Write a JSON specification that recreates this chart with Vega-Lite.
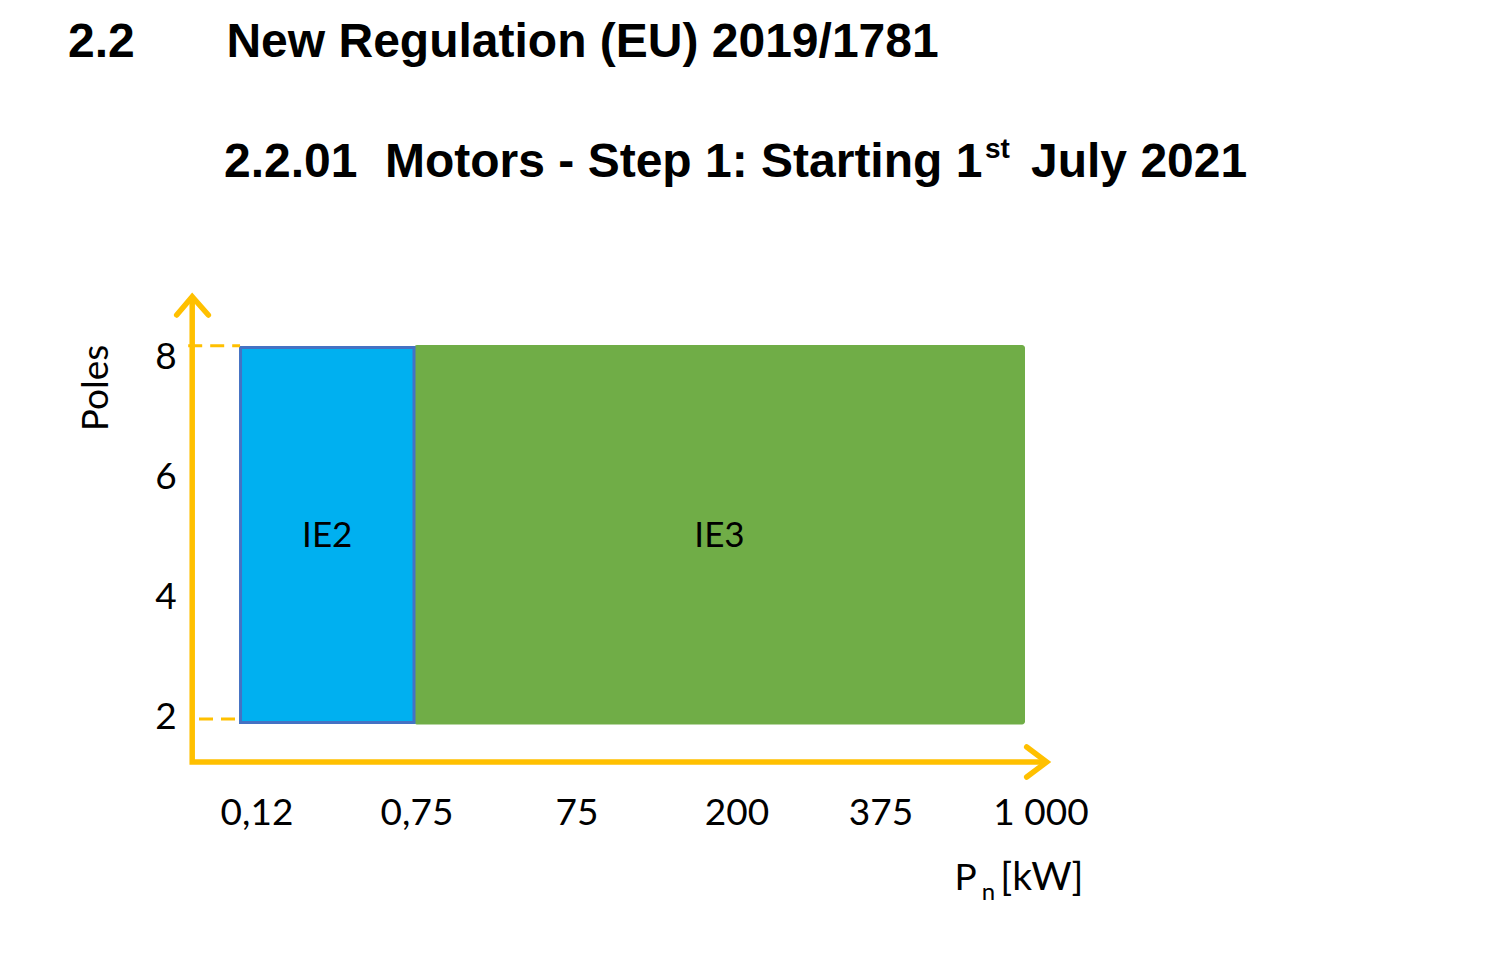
{
  "$schema": "https://vega.github.io/schema/vega-lite/v6.json",
  "width": 1493,
  "height": 976,
  "autosize": {"type": "fit", "contains": "padding"},
  "padding": 0,
  "background": "white",
  "config": {"view": {"stroke": null}},
  "data": {"values": [{}]},
  "datasets": {
    "regions": [
      {"cls": "IE3", "x0": 0.98125, "x1": 4.8, "y0": 1.86, "y1": 8.183},
      {"cls": "IE2", "x0": -0.103, "x1": 0.98125, "y0": 1.892, "y1": 8.142}
    ],
    "axisPath": [
      {"part": "axis", "seq": 0, "x": -0.405, "y": 8.95},
      {"part": "axis", "seq": 1, "x": -0.405, "y": 1.233},
      {"part": "axis", "seq": 2, "x": 4.92, "y": 1.233},
      {"part": "yhead", "seq": 0, "x": -0.502, "y": 8.683},
      {"part": "yhead", "seq": 1, "x": -0.405, "y": 8.988},
      {"part": "yhead", "seq": 2, "x": -0.304, "y": 8.683},
      {"part": "xhead", "seq": 0, "x": 4.8106, "y": 1.483},
      {"part": "xhead", "seq": 1, "x": 4.9356, "y": 1.233},
      {"part": "xhead", "seq": 2, "x": 4.8106, "y": 0.983}
    ],
    "guides": [
      {"level": 8, "x": -0.43, "y": 8.172},
      {"level": 8, "x": -0.106, "y": 8.172},
      {"level": 2, "x": -0.3625, "y": 1.95},
      {"level": 2, "x": -0.119, "y": 1.95}
    ],
    "xticks": [
      {"label": "0,12", "slot": 0},
      {"label": "0,75", "slot": 1},
      {"label": "75", "slot": 2},
      {"label": "200", "slot": 3},
      {"label": "375", "slot": 3.9},
      {"label": "1 000", "slot": 4.9}
    ],
    "poles": [{"poles": 2}, {"poles": 4}, {"poles": 6}, {"poles": 8}],
    "headings": [
      {"text": "2.2", "x": -1.181, "y": 12.983},
      {"text": "New Regulation (EU) 2019/1781", "x": -0.191, "y": 12.983},
      {"text": "2.2.01", "x": -0.206, "y": 10.983},
      {"text": "Motors - Step 1: Starting 1", "x": 0.8, "y": 10.983},
      {"text": "July 2021", "x": 4.8375, "y": 10.983}
    ]
  },
  "layer": [
    {
      "data": {"name": "regions"},
      "transform": [{"filter": "datum.cls === 'IE3'"}],
      "mark": {"type": "rect", "cornerRadius": 3},
      "encoding": {
        "x": {"field": "x0", "type": "quantitative", "scale": {"domain": [-1.60625, 7.725], "nice": false, "zero": false}, "axis": null},
        "x2": {"field": "x1"},
        "y": {"field": "y0", "type": "quantitative", "scale": {"domain": [-2.3333, 13.9333], "nice": false, "zero": false}, "axis": null},
        "y2": {"field": "y1"},
        "color": {"value": "#70AD47"}
      }
    },
    {
      "data": {"name": "regions"},
      "transform": [{"filter": "datum.cls === 'IE2'"}],
      "mark": {"type": "rect", "stroke": "#4472C4", "strokeWidth": 3},
      "encoding": {
        "x": {"field": "x0", "type": "quantitative"},
        "x2": {"field": "x1"},
        "y": {"field": "y0", "type": "quantitative"},
        "y2": {"field": "y1"},
        "color": {"value": "#00B0F0"}
      }
    },
    {
      "data": {"name": "regions"},
      "transform": [
        {"calculate": "(datum.x0 + datum.x1) / 2", "as": "xm"},
        {"calculate": "(datum.y0 + datum.y1) / 2", "as": "ym"}
      ],
      "mark": {"type": "text", "font": "Lato", "fontSize": 35, "align": "center", "baseline": "alphabetic", "dy": 12, "color": "#000000"},
      "encoding": {
        "x": {"field": "xm", "type": "quantitative"},
        "y": {"field": "ym", "type": "quantitative"},
        "text": {"field": "cls"}
      }
    },
    {
      "data": {"name": "guides"},
      "mark": {"type": "line", "color": "#FFC000", "strokeWidth": 3, "strokeDash": [14, 8]},
      "encoding": {
        "x": {"field": "x", "type": "quantitative"},
        "y": {"field": "y", "type": "quantitative"},
        "detail": {"field": "level"}
      }
    },
    {
      "data": {"name": "axisPath"},
      "mark": {"type": "line", "color": "#FFC000", "strokeWidth": 5.5, "strokeCap": "round", "strokeJoin": "miter"},
      "encoding": {
        "x": {"field": "x", "type": "quantitative"},
        "y": {"field": "y", "type": "quantitative"},
        "detail": {"field": "part"},
        "order": {"field": "seq"}
      }
    },
    {
      "data": {"name": "xticks"},
      "mark": {"type": "text", "font": "Lato", "fontSize": 37, "align": "center", "baseline": "alphabetic", "color": "#000000"},
      "encoding": {
        "x": {"field": "slot", "type": "quantitative"},
        "y": {"datum": 0.1833},
        "text": {"field": "label"}
      }
    },
    {
      "data": {"name": "poles"},
      "mark": {"type": "text", "font": "Lato", "fontSize": 37, "align": "center", "baseline": "alphabetic", "dy": 13, "color": "#000000"},
      "encoding": {
        "x": {"datum": -0.56875},
        "y": {"field": "poles", "type": "quantitative"},
        "text": {"field": "poles"}
      }
    },
    {
      "mark": {"type": "text", "text": "Poles", "font": "Lato", "fontSize": 37, "angle": 270, "align": "center", "baseline": "middle", "color": "#000000"},
      "encoding": {
        "x": {"datum": -1.0},
        "y": {"datum": 7.467}
      }
    },
    {
      "mark": {"type": "text", "text": "P", "font": "Lato", "fontSize": 37, "align": "left", "baseline": "alphabetic", "color": "#000000"},
      "encoding": {"x": {"datum": 4.36}, "y": {"datum": -0.9}}
    },
    {
      "mark": {"type": "text", "text": "n", "font": "Lato", "fontSize": 24, "align": "left", "baseline": "alphabetic", "color": "#000000"},
      "encoding": {"x": {"datum": 4.53}, "y": {"datum": -1.067}}
    },
    {
      "mark": {"type": "text", "text": "[kW]", "font": "Lato", "fontSize": 39, "align": "left", "baseline": "alphabetic", "color": "#000000"},
      "encoding": {"x": {"datum": 4.645}, "y": {"datum": -0.9}}
    },
    {
      "data": {"name": "headings"},
      "mark": {"type": "text", "font": "Liberation Sans", "fontWeight": "bold", "fontSize": 48, "align": "left", "baseline": "alphabetic", "color": "#000000"},
      "encoding": {
        "x": {"field": "x", "type": "quantitative"},
        "y": {"field": "y", "type": "quantitative"},
        "text": {"field": "text"}
      }
    },
    {
      "mark": {"type": "text", "text": "st", "font": "Liberation Sans", "fontWeight": "bold", "fontSize": 28, "align": "left", "baseline": "alphabetic", "color": "#000000"},
      "encoding": {"x": {"datum": 4.55}, "y": {"datum": 11.3}}
    }
  ]
}
